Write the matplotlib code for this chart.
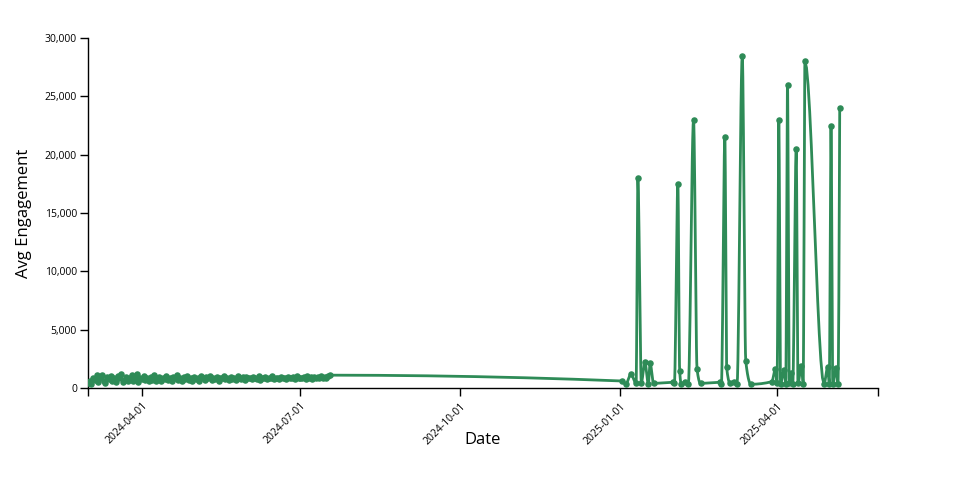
import numpy as np
import matplotlib
matplotlib.use("Agg")
import matplotlib.pyplot as plt
import matplotlib.dates as mdates
from matplotlib.ticker import FuncFormatter
import datetime as dt

plt.rcParams['font.family'] = ['Open Sans', 'DejaVu Sans']

# ---- data ----
early_start = "2024-03-01"
early_values = [
    # March
    450, 620, 380, 900, 700, 1100, 520, 850, 1150, 600, 430, 980, 760, 1050, 640, 890,
    520, 1000, 820, 1200, 480, 700, 950, 560, 880, 1080, 620, 800, 1180, 540, 900,
    # April
    760, 1000, 650, 880, 560, 960, 720, 1100, 640, 840, 980, 600, 900, 760, 1050,
    700, 860, 620, 980, 820, 1080, 680, 900, 560, 940, 800, 1020, 700, 860, 640,
    # May
    980, 760, 900, 620, 1000, 820, 700, 940, 860, 1040, 680, 900, 760, 980, 640, 880,
    820, 1000, 740, 900, 680, 960, 800, 880, 720, 1000, 840, 760, 920, 700, 980,
    # June
    820, 900, 740, 960, 860, 780, 1000, 720, 900, 840, 960, 760, 880, 820, 1000,
    740, 900, 860, 780, 960, 840, 900, 760, 980, 880, 820, 940, 780, 1000, 860,
    # July
    900, 820, 960, 780, 1020, 860, 920, 800, 980, 880, 940, 820, 1000, 900, 960, 880, 1040, 1100,
]

late_dates = [
    "2025-01-02", "2025-01-04", "2025-01-07", "2025-01-10", "2025-01-11", "2025-01-13",
    "2025-01-15", "2025-01-17", "2025-01-18", "2025-01-20", "2025-01-31", "2025-02-01",
    "2025-02-03", "2025-02-04", "2025-02-05", "2025-02-07", "2025-02-09", "2025-02-12",
    "2025-02-14", "2025-02-16", "2025-02-27", "2025-02-28", "2025-03-02", "2025-03-03",
    "2025-03-05", "2025-03-07", "2025-03-09", "2025-03-12", "2025-03-14", "2025-03-17",
    "2025-03-29", "2025-03-31", "2025-04-01", "2025-04-02", "2025-04-03", "2025-04-05",
    "2025-04-06", "2025-04-07", "2025-04-08", "2025-04-09", "2025-04-10", "2025-04-12",
    "2025-04-13", "2025-04-15", "2025-04-16", "2025-04-17", "2025-04-28", "2025-04-30",
    "2025-05-01", "2025-05-02", "2025-05-03", "2025-05-05", "2025-05-06", "2025-05-07",
]
late_values = [
    600, 320, 1170, 400, 18000, 450,
    2250, 320, 2170, 400, 490, 420,
    17500, 1480, 320, 540, 320, 23000,
    1630, 400, 490, 330, 21500, 1770,
    400, 540, 320, 28500, 2310, 320,
    540, 1630, 450, 23000, 350, 1540,
    330, 26000, 420, 1260, 330, 20500,
    420, 1910, 330, 28000, 320, 1770,
    330, 22500, 330, 1690, 330, 24000,
]

x_ticks = ["2024-04-01", "2024-07-01", "2024-10-01", "2025-01-01", "2025-04-01"]
x_domain = ["2024-03-01", "2025-05-29"]
y_ticks = [0, 5000, 10000, 15000, 20000, 25000, 30000]

# ---- build series ----
d0 = dt.date.fromisoformat(early_start)
early_dates = [d0 + dt.timedelta(days=i) for i in range(len(early_values))]
dates = [mdates.date2num(d) for d in early_dates]
dates += [mdates.date2num(dt.date.fromisoformat(d)) for d in late_dates]
x = np.array(dates, dtype=float)
y = np.array(early_values + late_values, dtype=float)


def monotone_x(x, y, samples=12):
    n = len(x)
    h = np.diff(x)
    s = np.diff(y) / h
    t = np.zeros(n)
    for i in range(1, n - 1):
        h0, h1 = h[i - 1], h[i]
        s0, s1 = s[i - 1], s[i]
        p = (s0 * h1 + s1 * h0) / (h0 + h1)
        t[i] = (np.sign(s0) + np.sign(s1)) * min(abs(s0), abs(s1), 0.5 * abs(p))
    t[0] = (3 * s[0] - t[1]) / 2
    t[-1] = (3 * s[-1] - t[-2]) / 2
    xs, ys = [], []
    u = np.linspace(0, 1, samples, endpoint=False)
    for i in range(n - 1):
        dx = h[i]
        h00 = 2 * u**3 - 3 * u**2 + 1
        h10 = u**3 - 2 * u**2 + u
        h01 = -2 * u**3 + 3 * u**2
        h11 = u**3 - u**2
        xs.append(x[i] + u * dx)
        ys.append(h00 * y[i] + h10 * dx * t[i] + h01 * y[i + 1] + h11 * dx * t[i + 1])
    xs.append([x[-1]])
    ys.append([y[-1]])
    return np.concatenate(xs), np.concatenate(ys)


cx, cy = monotone_x(x, y)

fig = plt.figure(figsize=(9.6, 5.0), dpi=100)
ax = fig.add_axes([88 / 960, 112 / 500, 790 / 960, 350 / 500])

color = "#2e8b57"
ax.plot(cx, cy, color=color, lw=2, solid_joinstyle='round', zorder=2)
ax.scatter(x, y, s=22, color=color, zorder=3, linewidths=0)

xlo = mdates.date2num(dt.date.fromisoformat(x_domain[0]))
xhi = mdates.date2num(dt.date.fromisoformat(x_domain[1]))
ax.set_xlim(xlo, xhi)
ax.set_ylim(0, 30000)

tick_nums = [mdates.date2num(dt.date.fromisoformat(d)) for d in x_ticks]
ax.set_xticks(tick_nums)
ax.set_xticklabels(x_ticks, rotation=45, ha='right', rotation_mode='anchor', fontsize=7.5)
ax.set_xticks([xlo, xhi], minor=True)
ax.tick_params(axis='x', which='minor', length=6, width=1, color='black')
ax.set_yticks(y_ticks)
ax.yaxis.set_major_formatter(FuncFormatter(lambda v, p: f"{int(v):,}"))
ax.tick_params(axis='y', labelsize=7.5, length=6, width=1, pad=2)
ax.tick_params(axis='x', length=6, width=1, pad=3)

for side in ['top', 'right']:
    ax.spines[side].set_visible(False)
for side in ['left', 'bottom']:
    ax.spines[side].set_linewidth(1)

fig.text(483 / 960, 1 - 440 / 500, "Date", ha='center', va='center', fontsize=12)
fig.text(24 / 960, 1 - 213 / 500, "Avg Engagement", ha='center', va='center', rotation=90, fontsize=12)

fig.savefig("out.png", dpi=100)
